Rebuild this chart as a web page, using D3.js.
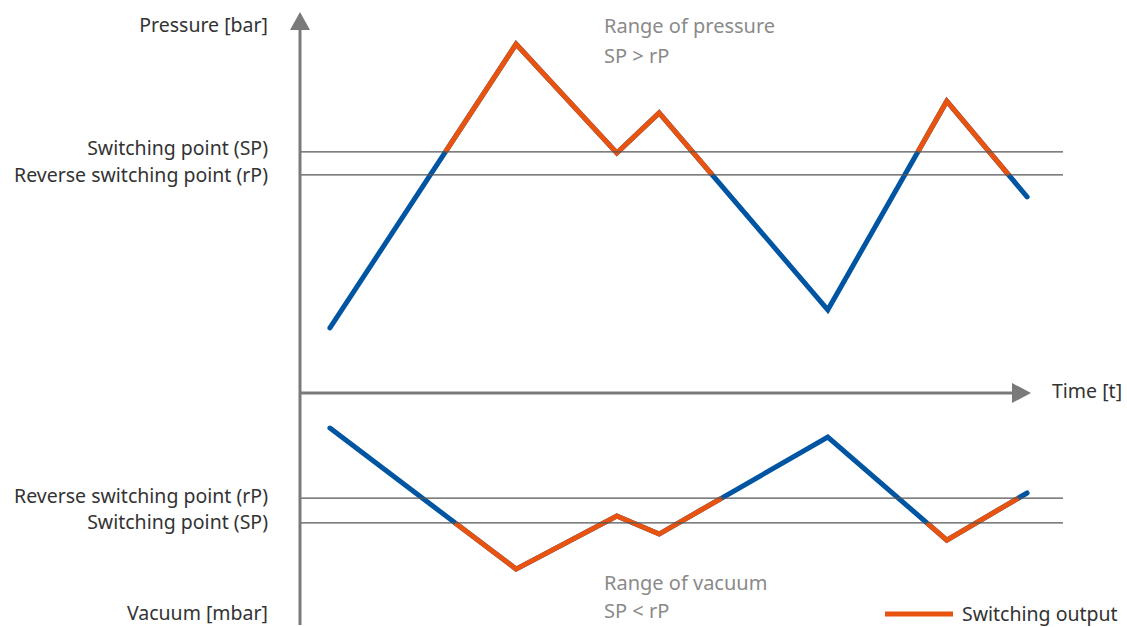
<!DOCTYPE html>
<meta charset="utf-8">
<script src="https://d3js.org/d3.v7.min.js"></script>
<style>
  body { margin: 0; background: #fff; }
  text { font-family: "Noto Sans", sans-serif; font-size: 19.5px; fill: #333; }
  .note { fill: #8a8a8a; font-size: 20px; }
</style>
<body>
<svg id="chart" width="1127" height="627"></svg>
<script>
// data (arbitrary units)
var times     = [4.1, 29.6, 43.4, 49.2, 72.3, 88.6, 99.6];
var pressure  = [17.2, 92.3, 63.5, 74.1, 22.0, 77.2, 51.9];
var vacuum    = [15.1, 75.9, 53.0, 60.8, 19.0, 63.4, 43.1];
var pressSP = 63.8, pressRP = 57.7;
var vacSP = 56.0, vacRP = 45.3;

var orange = "#e8540f", blue = "#0055a2", axisGrey = "#7a7a7a";

var svg = d3.select("#chart");

var x = d3.scaleLinear().domain([0, 100]).range([300, 1030]);
var yP = d3.scaleLinear().domain([0, 100]).range([393, 15]);   // pressure, upwards
var yV = d3.scaleLinear().domain([0, 100]).range([393, 625]);  // vacuum, downwards

// split a series where the switch turns on (>= sp) and off (<= rp)
function switchPieces(vals, sp, rp) {
  var pts = times.map(function(t, i) { return [t, vals[i]]; });
  var pieces = [], on = vals[0] >= sp, cur = [pts[0]];
  for (var i = 1; i < pts.length; i++) {
    var a = pts[i - 1], b = pts[i];
    var lim = on ? rp : sp;
    var crosses = on ? (a[1] > rp && b[1] <= rp) : (a[1] < sp && b[1] >= sp);
    if (crosses) {
      var f = (lim - a[1]) / (b[1] - a[1]);
      var c = [a[0] + f * (b[0] - a[0]), lim];
      cur.push(c);
      pieces.push({on: on, pts: cur});
      on = !on;
      cur = [c];
    }
    cur.push(b);
  }
  pieces.push({on: on, pts: cur});
  return pieces;
}

function drawSeries(vals, yScale, sp, rp) {
  var line = d3.line().x(function(d) { return x(d[0]); }).y(function(d) { return yScale(d[1]); });
  var all = times.map(function(t, i) { return [t, vals[i]]; });
  svg.append("path").attr("d", line(all))
    .attr("fill", "none").attr("stroke", blue).attr("stroke-width", 5)
    .attr("stroke-linecap", "round").attr("stroke-linejoin", "miter");
  svg.append("g").selectAll("path")
    .data(switchPieces(vals, sp, rp).filter(function(p) { return p.on; }))
    .enter().append("path")
      .attr("d", function(p) { return line(p.pts); })
      .attr("fill", "none").attr("stroke", orange).attr("stroke-width", 5)
      .attr("stroke-linejoin", "miter");
}

drawSeries(pressure, yP, pressSP, pressRP);
drawSeries(vacuum, yV, vacSP, vacRP);

// threshold lines
var thresholds = [yP(pressSP), yP(pressRP), yV(vacRP), yV(vacSP)];
svg.append("g").selectAll("line").data(thresholds).enter().append("line")
  .attr("x1", x(0)).attr("x2", 1063)
  .attr("y1", function(d) { return d; }).attr("y2", function(d) { return d; })
  .attr("stroke", "#555").attr("stroke-width", 1.3);

// axes with arrows
svg.append("line").attr("x1", x(0)).attr("x2", x(0)).attr("y1", 26).attr("y2", 625)
  .attr("stroke", axisGrey).attr("stroke-width", 3);
svg.append("path").attr("d", "M" + x(0) + ",12 L" + (x(0) - 10) + ",30 L" + (x(0) + 10) + ",30 Z")
  .attr("fill", axisGrey);
svg.append("line").attr("x1", x(0)).attr("x2", 1014).attr("y1", yP(0)).attr("y2", yP(0))
  .attr("stroke", axisGrey).attr("stroke-width", 3);
svg.append("path").attr("d", "M1031," + yP(0) + " L1012," + (yP(0) - 10) + " L1012," + (yP(0) + 10) + " Z")
  .attr("fill", axisGrey);

// labels
var lx = 268;
function label(txt, y, cls, anchor, xx) {
  svg.append("text").attr("x", xx === undefined ? lx : xx).attr("y", y)
    .attr("text-anchor", anchor || "end").attr("class", cls || null).text(txt);
}
label("Pressure [bar]", 32);
label("Switching point (SP)", yP(pressSP) + 3);
label("Reverse switching point (rP)", yP(pressRP) + 7);
label("Reverse switching point (rP)", yV(vacRP) + 5);
label("Switching point (SP)", yV(vacSP) + 6);
label("Vacuum [mbar]", 620);
label("Time [t]", yP(0) + 5, null, "start", 1052);
label("Range of pressure", 33, "note", "start", 604);
label("SP > rP", 63, "note", "start", 604);
label("Range of vacuum", 590, "note", "start", 604);
label("SP < rP", 618, "note", "start", 604);

// legend
svg.append("line").attr("x1", 885).attr("x2", 953).attr("y1", 614).attr("y2", 614)
  .attr("stroke", orange).attr("stroke-width", 5);
label("Switching output", 621, null, "start", 962);
</script>
</body>
